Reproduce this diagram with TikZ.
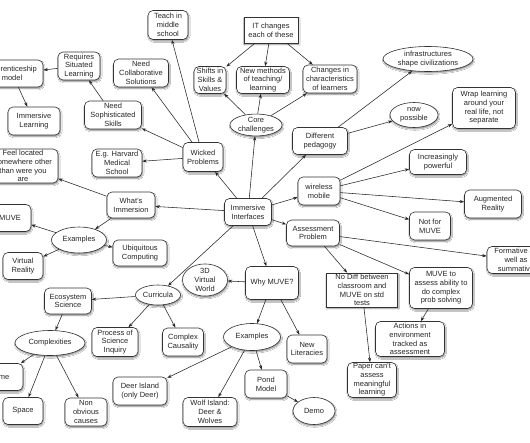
\documentclass[tikz,border=0pt]{standalone}
\usepackage{fontspec}
\setmainfont{Liberation Sans}
\usetikzlibrary{shapes.geometric,arrows.meta,shadows.blur}
\begin{document}
\begin{tikzpicture}[x=1pt,y=-1pt,
  base/.style={draw=black!80, fill=white, line width=0.6pt, align=center,
    font=\fontsize{7.5}{8.7}\selectfont, text=black!85, inner sep=1pt,
    blur shadow={shadow xshift=0.7pt, shadow yshift=-1.5pt, shadow blur steps=4,
      shadow opacity=45, shadow blur radius=1.3pt}},
  rb/.style={base, rectangle, rounded corners=5pt},
  sb/.style={base, rectangle},
  el/.style={base, ellipse, inner sep=0pt},
  sz/.style 2 args={minimum width=#1pt, minimum height=#2pt},
  arr/.style={-{Stealth[length=4.5pt,width=3.2pt]}, line width=0.55pt, draw=black!85}
]
\path[use as bounding box, clip] (0,0) rectangle (530,442);
\fill[white] (0,0) rectangle (530,442);

% top-left cluster
\node[rb, sz={62}{27}] (app) at (12,73.5) {Apprenticeship\\model};
\node[rb, sz={42}{28}] (rsl) at (79,66) {Requires\\Situated\\Learning};
\node[rb, sz={55}{28}] (ncs) at (141,73) {Need\\Collaborative\\Solutions};
\node[rb, sz={57}{28}] (nss) at (113,115) {Need\\Sophisticated\\Skills};
\node[rb, sz={52}{28}] (iml) at (34,121) {Immersive\\Learning};
\node[rb, sz={40}{29}] (tms) at (168,25) {Teach in\\middle\\school};

% top-middle
\node[sb, sz={54}{26}] (itc) at (271,30) {IT changes\\each of these};
\node[rb, sz={32}{27}] (ssv) at (210,80) {Shifts in\\Skills \&\\Values};
\node[rb, sz={53}{27}] (nmt) at (263,80) {New methods\\of teaching/\\learning};
\node[rb, sz={54}{28}] (cil) at (330,79) {Changes in\\characteristics\\of learners};
\node[el, sz={52}{21}] (cc) at (256,125) {Core\\challenges};
\node[rb, sz={55}{27}] (dp) at (320,141) {Different\\pedagogy};

% top-right
\node[el, sz={90}{25}] (isc) at (428,59) {infrastructures\\shape civilizations};
\node[el, sz={48}{25}] (np) at (414,115) {now\\possible};
\node[rb, sz={63}{41}] (wl) at (484,108) {Wrap learning\\around your\\real life, not\\separate};

% left middle
\node[rb, sz={70}{34}] (fl) at (23,166) {Feel located\\somewhere other\\than were you\\are};
\node[rb, sz={50}{28}] (ehm) at (117,163) {E.g. Harvard\\Medical\\School};
\node[rb, sz={48}{26}] (wi) at (131,205) {What's\\Immersion};
\node[rb, sz={42}{27}] (muve) at (10,218) {MUVE};
\node[el, sz={55}{26}] (ex1) at (79,240) {Examples};
\node[rb, sz={54}{26}] (ubc) at (140,253) {Ubiquitous\\Computing};
\node[rb, sz={40}{27}] (vr) at (23,266) {Virtual\\Reality};

% centre
\node[rb, sz={40}{29}] (wp) at (203,157) {Wicked\\Problems};
\node[rb, sz={47}{27}] (ii) at (248,212) {Immersive\\Interfaces};
\node[rb, sz={42}{28}] (wm) at (319,191) {wireless\\mobile};
\node[rb, sz={53}{26}] (ap) at (313,233) {Assessment\\Problem};
\node[rb, sz={53}{33}] (wmu) at (272,283) {Why MUVE?};
\node[el, sz={45}{30}] (tdv) at (205,280) {3D\\Virtual\\World};
\node[el, sz={45}{20}] (cur) at (158,295) {Curricula};

% right middle
\node[rb, sz={57}{25}] (ip) at (438,162) {Increasingly\\powerful};
\node[rb, sz={57}{28}] (aug) at (493,204) {Augmented\\Reality};
\node[rb, sz={41}{28}] (nfm) at (430,226) {Not for\\MUVE};
\node[rb, sz={58}{27}] (fas) at (516,260) {Formative as\\well as\\summative};
\node[rb, sz={63}{41}] (mta) at (441,288) {MUVE to\\assess ability to\\do complex\\prob solving};
\node[sb, sz={71}{34}] (nd) at (362,290) {No Diff between\\classroom and\\MUVE on std\\tests};
\node[rb, sz={69}{35}] (aie) at (410,339) {Actions in\\environment\\tracked as\\assessment};
\node[rb, sz={49}{35}] (pca) at (372,380) {Paper can't\\assess\\meaningful\\learning};

% bottom
\node[rb, sz={47}{26}] (es) at (68,301) {Ecosystem\\Science};
\node[el, sz={70}{25}] (cpx) at (50,343) {Complexities};
\node[rb, sz={44}{27}] (time) at (1,377) {Time};
\node[rb, sz={40}{27}] (sp) at (23,411) {Space};
\node[rb, sz={42}{28}] (noc) at (86,412) {Non\\obvious\\causes};
\node[rb, sz={46}{29}] (psi) at (115,342) {Process of\\Science\\Inquiry};
\node[rb, sz={41}{28}] (cca) at (183,342) {Complex\\Causality};
\node[el, sz={57}{27}] (ex2) at (252,337) {Examples};
\node[rb, sz={40}{28}] (nl) at (307,349) {New\\Literacies};
\node[rb, sz={42}{28}] (pm) at (266,384) {Pond\\Model};
\node[rb, sz={54}{28}] (di) at (140,391) {Deer Island\\(only Deer)};
\node[rb, sz={54}{29}] (wi2) at (210,412) {Wolf Island:\\Deer \&\\Wolves};
\node[el, sz={42}{27}] (demo) at (314,411) {Demo};

% connectors
\draw[arr] (itc) -- (ssv);
\draw[arr] (itc) -- (nmt);
\draw[arr] (itc) -- (cil);
\draw[arr] (cc) -- (ssv);
\draw[arr] (cc) -- (nmt);
\draw[arr] (cc) -- (cil);
\draw[arr] (ii) -- (cc);
\draw[arr] (ii) -- (wp);
\draw[arr] (ii) -- (dp);
\draw[arr] (ii) -- (wm);
\draw[arr] (ii) -- (ap);
\draw[arr] (ii) -- (wmu);
\draw[arr] (ii) -- (cur);
\draw[arr] (ii) -- (wi);
\draw[arr] (wp) -- (tms);
\draw[arr] (wp) -- (ncs);
\draw[arr] (wp) -- (nss);
\draw[arr] (wp) -- (ehm);
\draw[arr] (nss) -- (rsl);
\draw[arr] (rsl) -- (app);
\draw[arr] (app) -- (iml);
\draw[arr] (wi) -- (fl);
\draw[arr] (wi) -- (ex1);
\draw[arr] (ex1) -- (muve);
\draw[arr] (ex1) -- (vr);
\draw[arr] (ex1) -- (ubc);
\draw[arr] (dp) -- (isc);
\draw[arr] (dp) -- (np);
\draw[arr] (wm) -- (wl);
\draw[arr] (wm) -- (ip);
\draw[arr] (wm) -- (aug);
\draw[arr] (wm) -- (nfm);
\draw[arr] (ap) -- (fas);
\draw[arr] (ap) -- (mta);
\draw[arr] (ap) -- (nd);
\draw[arr] (mta) -- (aie);
\draw[arr] (nd) -- (pca);
\draw[arr] (wmu) -- (tdv);
\draw[arr] (wmu) -- (ex2);
\draw[arr] (wmu) -- (nl);
\draw[arr] (cur) -- (es);
\draw[arr] (cur) -- (psi);
\draw[arr] (cur) -- (cca);
\draw[arr] (es) -- (cpx);
\draw[arr] (cpx) -- (time);
\draw[arr] (cpx) -- (sp);
\draw[arr] (cpx) -- (noc);
\draw[arr] (ex2) -- (di);
\draw[arr] (ex2) -- (wi2);
\draw[arr] (ex2) -- (pm);
\draw[arr] (pm) -- (demo);
\end{tikzpicture}
\end{document}
